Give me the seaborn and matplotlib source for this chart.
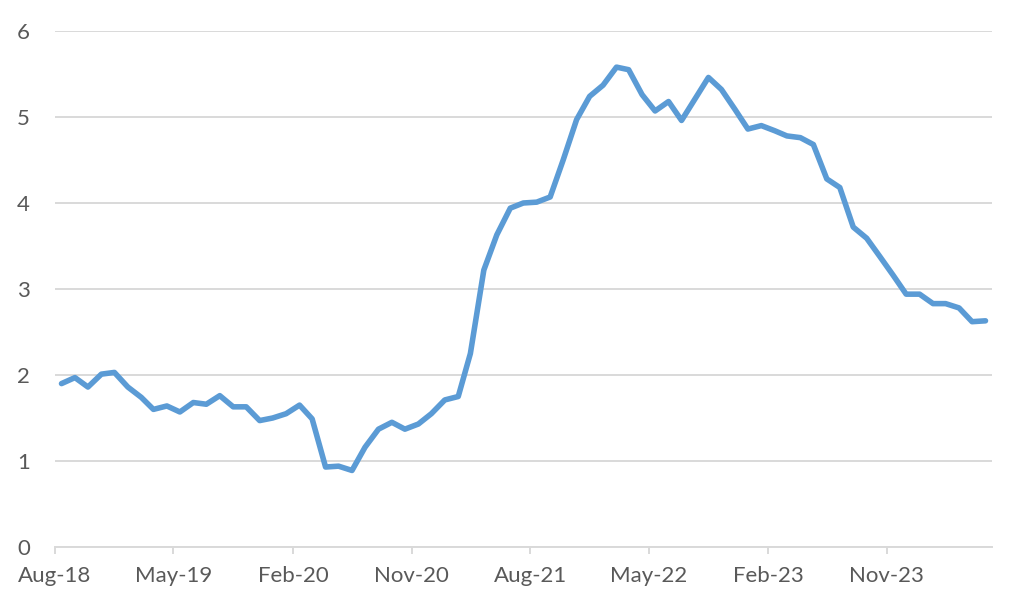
import matplotlib
matplotlib.use("Agg")
import matplotlib.pyplot as plt
import seaborn as sns
import pandas as pd

# ---- data ----
start_month = "2018-08-01"
values = [1.90, 1.97, 1.86, 2.01, 2.03, 1.86, 1.74, 1.60, 1.64, 1.57,
          1.68, 1.66, 1.76, 1.63, 1.63, 1.47, 1.50, 1.55, 1.65, 1.49,
          0.93, 0.94, 0.89, 1.16, 1.37, 1.45, 1.37, 1.43, 1.55, 1.71,
          1.75, 2.25, 3.22, 3.63, 3.94, 4.00, 4.01, 4.07, 4.50, 4.97,
          5.24, 5.37, 5.58, 5.55, 5.26, 5.07, 5.18, 4.96, 5.21, 5.46,
          5.32, 5.09, 4.86, 4.90, 4.84, 4.78, 4.76, 4.68, 4.28, 4.18,
          3.72, 3.59, 3.38, 3.16, 2.94, 2.94, 2.83, 2.83, 2.78, 2.62,
          2.63]
tick_labels = ["Aug-18", "May-19", "Feb-20", "Nov-20", "Aug-21", "May-22", "Feb-23", "Nov-23"]
tick_dates = ["2018-08-01", "2019-05-01", "2020-02-01", "2020-11-01",
              "2021-08-01", "2022-05-01", "2023-02-01", "2023-11-01"]
y_ticks = [0, 1, 2, 3, 4, 5, 6]

months = pd.date_range(start_month, periods=len(values), freq="MS")
mid = months + pd.Timedelta(days=15)
df = pd.DataFrame({"date": mid, "value": values})

sns.set_theme(style="white")
plt.rcParams["font.family"] = ["Lato", "DejaVu Sans"]

fig = plt.figure(figsize=(10.24, 6.14), dpi=100)
ax = fig.add_axes([55 / 1024, 1 - 547 / 614, (992 - 55) / 1024, (547 - 31) / 614])

sns.lineplot(data=df, x="date", y="value", ax=ax, color="#5B9BD5",
             linewidth=4.0, solid_capstyle="round", solid_joinstyle="round")

ax.set_xlim(pd.Timestamp(start_month), months[-1] + pd.offsets.MonthBegin(1))
ax.set_ylim(0, 6)
ax.set_yticks(y_ticks)
ax.set_yticklabels([str(v) for v in y_ticks])
ax.set_xticks(pd.to_datetime(tick_dates))
ax.set_xticklabels(tick_labels)

ax.grid(axis="y", color="#D9D9D9", linewidth=1.4)
ax.set_axisbelow(True)
for s in ["top", "right", "left"]:
    ax.spines[s].set_visible(False)
ax.spines["bottom"].set_color("#D9D9D9")
ax.spines["bottom"].set_linewidth(1.4)

ax.tick_params(axis="x", length=5, width=1.4, color="#D9D9D9", pad=9,
               labelsize=16, labelcolor="#595959", direction="out", bottom=True)
ax.tick_params(axis="y", length=0, pad=18, labelsize=16, labelcolor="#595959")
ax.set_xlabel("")
ax.set_ylabel("")

fig.savefig("out.png", dpi=100, facecolor="white")
